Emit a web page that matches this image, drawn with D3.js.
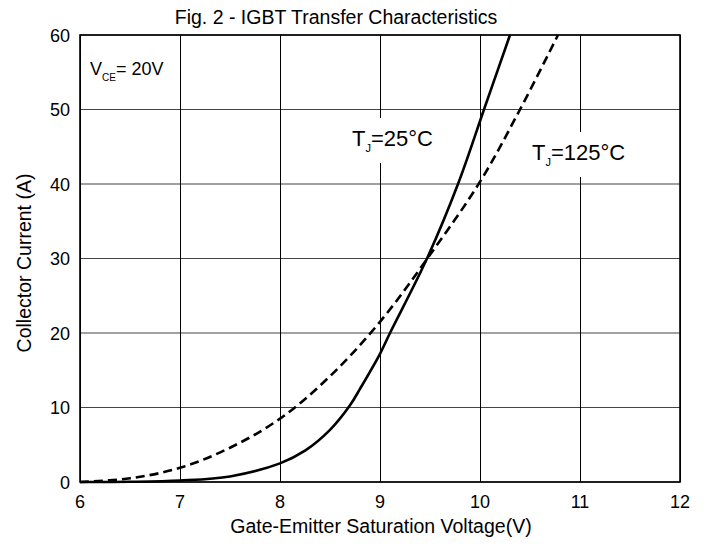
<!DOCTYPE html>
<html><head><meta charset="utf-8">
<script src="https://cdn.jsdelivr.net/npm/d3@7"></script>
<style>body{margin:0;background:#fff}svg{display:block;font-family:Arial,"Liberation Sans",sans-serif}</style>
</head><body>
<script>
const xTicks = [6,7,8,9,10,11,12];
const yTicks = [0,10,20,30,40,50,60];
const vge25 = [6,6.5,7,7.5,8,8.25,8.5,8.7,8.8,9,9.1,9.47,9.78,10.04,10.3];
const ic25  = [0,0.03,0.2,0.75,2.5,4.2,7.0,10.3,12.5,17.2,20,30,40,50,60];
const vge125 = [6,6.5,7,7.5,8,8.5,9,9.5,10,10.4,10.78];
const ic125  = [0,0.5,1.9,4.6,8.5,14.2,21.5,30.5,40.3,50,60];

const W=707,H=547;
const svg=d3.select("body").append("svg").attr("width",W).attr("height",H);
const x=d3.scaleLinear().domain([6,12]).range([80,680]);
const y=d3.scaleLinear().domain([0,60]).range([482,35]);

// grid
svg.append("g").selectAll("line").data(yTicks).join("line")
  .attr("x1",x(6)).attr("x2",x(12)).attr("y1",d=>y(d)).attr("y2",d=>y(d))
  .attr("stroke","#444").attr("stroke-width",1.2);
svg.append("g").selectAll("line").data(xTicks).join("line")
  .attr("x1",d=>Math.round(x(d))+0.5).attr("x2",d=>Math.round(x(d))+0.5).attr("y1",y(0)).attr("y2",y(60))
  .attr("stroke","#000").attr("stroke-width",1);

// tick labels
svg.append("g").selectAll("text").data(xTicks).join("text")
  .attr("x",d=>x(d)).attr("y",508).attr("text-anchor","middle")
  .attr("font-size",18).text(d=>d);
svg.append("g").selectAll("text").data(yTicks).join("text")
  .attr("x",70).attr("y",d=>y(d)+6.5).attr("text-anchor","end")
  .attr("font-size",18).text(d=>d);

// curves
const line=d3.line().x(d=>x(d[0])).y(d=>y(d[1])).curve(d3.curveCatmullRom.alpha(0.5));
svg.append("path").datum(vge25.map((v,i)=>[v,ic25[i]])).attr("d",line)
  .attr("fill","none").attr("stroke","#000").attr("stroke-width",2.6);
svg.append("path").datum(vge125.map((v,i)=>[v,ic125[i]])).attr("d",line)
  .attr("fill","none").attr("stroke","#000").attr("stroke-width",2.6).attr("stroke-dasharray","9,5");

// label boxes
svg.append("rect").attr("x",345).attr("y",118).attr("width",96).attr("height",45).attr("fill","#fff");
svg.append("rect").attr("x",525).attr("y",132).attr("width",108).attr("height",45).attr("fill","#fff");

function tj(px,py,rest){
  const t=svg.append("text").attr("x",px).attr("y",py).attr("font-size",22);
  t.append("tspan").text("T");
  t.append("tspan").attr("font-size",11).attr("dy",6).text("J");
  t.append("tspan").attr("dy",-6).text(rest);
}
tj(352,146,"=25°C");
tj(532,160,"=125°C");

// VCE label
const v=svg.append("text").attr("x",90).attr("y",75).attr("font-size",18);
v.append("tspan").text("V");
v.append("tspan").attr("font-size",10).attr("dy",6).text("CE");
v.append("tspan").attr("dy",-6).text("= 20V");

// border
svg.append("rect").attr("x",x(6)).attr("y",y(60)).attr("width",x(12)-x(6)).attr("height",y(0)-y(60))
  .attr("fill","none").attr("stroke","#000").attr("stroke-width",1.6);

// titles
svg.append("text").attr("x",336).attr("y",24).attr("text-anchor","middle").attr("font-size",19.5)
  .text("Fig. 2 - IGBT Transfer Characteristics");
svg.append("text").attr("x",381).attr("y",533).attr("text-anchor","middle").attr("font-size",19.5)
  .text("Gate-Emitter Saturation Voltage(V)");
svg.append("text").attr("transform","translate(31,263) rotate(-90)").attr("text-anchor","middle").attr("font-size",19.5)
  .text("Collector Current (A)");
</script>
</body></html>
